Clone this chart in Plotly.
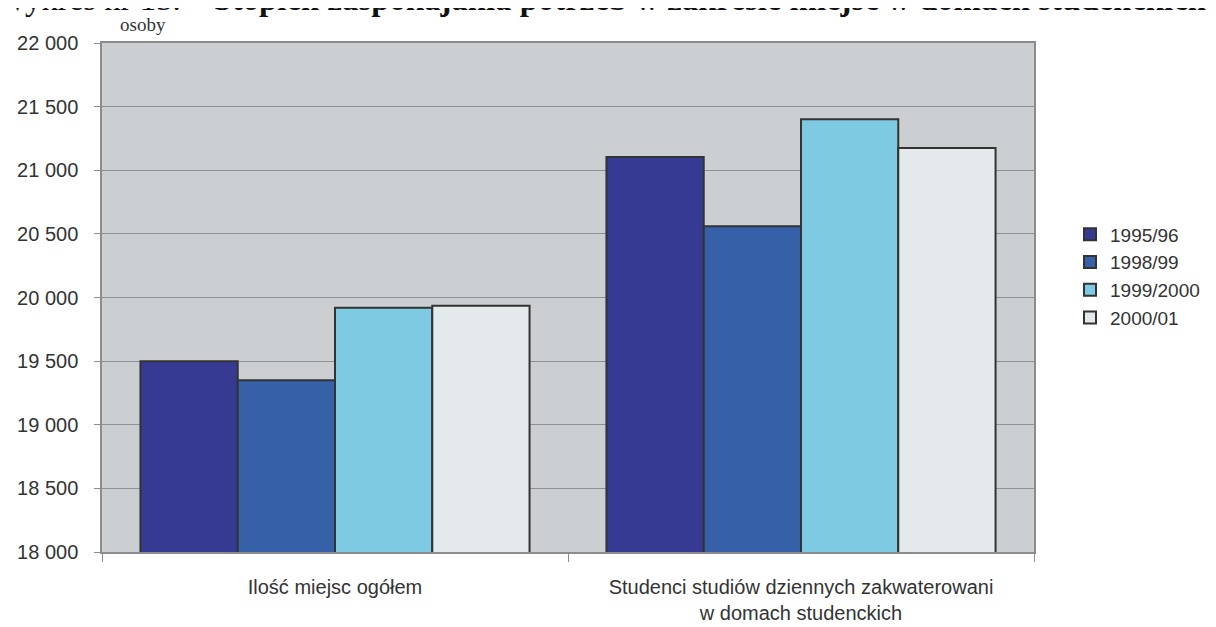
import plotly.graph_objects as go

categories = ["Ilość miejsc ogółem",
              "Studenci studiów dziennych zakwaterowani<br>w domach studenckich"]
series_names = ["1995/96", "1998/99", "1999/2000", "2000/01"]
values_1995 = [19500, 21105]
values_1998 = [19350, 20560]
values_1999 = [19920, 21400]
values_2000 = [19935, 21175]
y_ticks = [18000, 18500, 19000, 19500, 20000, 20500, 21000, 21500, 22000]

colors = ["#373A93", "#3660A8", "#7ECAE3", "#E4EAEB"]
series_values = [values_1995, values_1998, values_1999, values_2000]

fig = go.Figure()
for name, vals, col in zip(series_names, series_values, colors):
    fig.add_trace(go.Bar(
        x=categories, y=vals, name=name,
        marker=dict(color=col, line=dict(color="#333333", width=2)),
    ))

# the page body has an 8px margin, so figure coords = page coords - 8
OFF = 8
FW, FH = 1216 - OFF, 627 - OFF
L, T = 102 - OFF, 43 - OFF
W, H = 1034 - 102, 552 - 43
R, B = FW - L - W, FH - T - H

def px(xp):
    return (xp - OFF - L) / W

def py(yp):
    return (T + H - (yp - OFF)) / H

fig.update_layout(
    width=FW, height=FH,
    margin=dict(l=L, r=R, t=T, b=B, pad=0, autoexpand=False),
    paper_bgcolor="white",
    plot_bgcolor="#CCCFD1",
    barmode="group",
    bargap=0.165,
    bargroupgap=0,
    separators=", ",
    font=dict(family="Liberation Sans, Arial, sans-serif", size=20, color="#333333"),
    showlegend=True,
    legend=dict(
        x=px(1070), y=py(276), xanchor="left", yanchor="middle",
        font=dict(size=19, color="#333333"),
        bgcolor="rgba(0,0,0,0)", itemwidth=30, tracegroupgap=0,
    ),
    xaxis=dict(
        type="category", automargin=False,
        showline=True, linecolor="#8A8C8E", linewidth=1.5, mirror=True,
        ticks="outside", tickson="boundaries", ticklen=8, tickcolor="#8A8C8E",
        showgrid=False,
        tickfont=dict(size=20, color="#333333"),
        ticklabelstandoff=16,
    ),
    yaxis=dict(
        range=[18000, 22000], automargin=False,
        tickvals=y_ticks,
        tickformat=",d",
        showline=True, linecolor="#8A8C8E", linewidth=1.5, mirror=True,
        ticks="outside", ticklen=6, tickcolor="#8A8C8E",
        showgrid=True, gridcolor="#8E9092", gridwidth=1,
        zeroline=False,
        tickfont=dict(size=20, color="#333333"),
        ticklabelstandoff=12,
    ),
    annotations=[
        dict(text="osoby", xref="paper", yref="paper",
             x=px(143), y=py(24), xanchor="center", yanchor="middle",
             showarrow=False,
             font=dict(family="Liberation Serif, Times New Roman, serif", size=19, color="#333333")),
        dict(text="Wykres nr 13. – <b>Stopień zaspokajania potrzeb w zakresie miejsc w domach studenckich</b>",
             xref="paper", yref="paper",
             x=px(-6), y=py(-1), xanchor="left", yanchor="middle",
             showarrow=False,
             font=dict(family="Liberation Serif, Times New Roman, serif", size=32.8, color="#111111")),
    ],
)

fig.write_html("out.html")
